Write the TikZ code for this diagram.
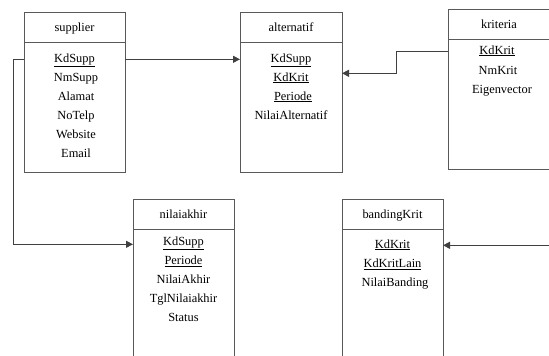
\documentclass[tikz,border=0pt]{standalone}
\usepackage{fontspec}
\setmainfont{Liberation Serif}
\usetikzlibrary{arrows.meta}
\begin{document}
\begin{tikzpicture}[x=1pt,y=-1pt,
  ent/.style={draw=black!65,line width=0.9pt,rectangle,outer sep=0pt,inner sep=0pt},
  hline/.style={draw=black!65,line width=0.9pt},
  lbl/.style={inner sep=0pt,text height=8.5pt,text depth=2.5pt,font=\fontsize{12.4}{14}\selectfont},
  conn/.style={draw=black!75,line width=1pt,-{Triangle[length=7pt,width=7pt]}}]
\useasboundingbox (0,0) rectangle (549,356);
\begin{scope}
\clip (0,0) rectangle (549,356);
% supplier
\node[ent,minimum width=101pt,minimum height=160pt] (supplier) at (74.5,92.7) {};
\draw[hline] (supplier.west |- 0,42.7) -- (supplier.east |- 0,42.7);
\node[lbl] (supT) at (74.5,28) {supplier};
\node[lbl] (s1) at (74.5,59) {\underline{KdSupp}};
\node[lbl] (s2) at (76,78) {NmSupp};
\node[lbl] (s3) at (76,97) {Alamat};
\node[lbl] (s4) at (76,116) {NoTelp};
\node[lbl] (s5) at (76,135) {Website};
\node[lbl] (s6) at (76,154) {Email};
% alternatif
\node[ent,minimum width=102pt,minimum height=160pt] (alt) at (291,92.7) {};
\draw[hline] (alt.west |- 0,42.7) -- (alt.east |- 0,42.7);
\node[lbl] (altT) at (291,28) {alternatif};
\node[lbl] (a1) at (291,59) {\underline{KdSupp}};
\node[lbl] (a2) at (291,78) {\underline{KdKrit}};
\node[lbl] (a3) at (293,97) {\underline{Periode}};
\node[lbl] (a4) at (291,116) {NilaiAlternatif};
% kriteria
\node[ent,minimum width=103pt,minimum height=160pt] (krit) at (499.5,89.2) {};
\draw[hline] (krit.west |- 0,39.3) -- (krit.east |- 0,39.3);
\node[lbl] (kritT) at (499,25) {kriteria};
\node[lbl] (k1) at (497,51) {\underline{KdKrit}};
\node[lbl] (k2) at (498,71) {NmKrit};
\node[lbl] (k3) at (502,90) {Eigenvector};
% nilaiakhir
\node[ent,minimum width=101pt,minimum height=180pt] (nilai) at (183.5,289.3) {};
\draw[hline] (nilai.west |- 0,229.3) -- (nilai.east |- 0,229.3);
\node[lbl] (nilT) at (183.5,215) {nilaiakhir};
\node[lbl] (n1) at (183.5,242.3) {\underline{KdSupp}};
\node[lbl] (n2) at (183.5,261.5) {\underline{Periode}};
\node[lbl] (n3) at (183.5,280.3) {NilaiAkhir};
\node[lbl] (n4) at (183.5,299.5) {TglNilaiakhir};
\node[lbl] (n5) at (183.5,318.5) {Status};
% bandingKrit
\node[ent,minimum width=101pt,minimum height=180pt] (band) at (392.5,289.3) {};
\draw[hline] (band.west |- 0,229.3) -- (band.east |- 0,229.3);
\node[lbl] (banT) at (392.5,215) {bandingKrit};
\node[lbl] (b1) at (392.5,245) {\underline{KdKrit}};
\node[lbl] (b2) at (392.5,264.3) {\underline{KdKritLain}};
\node[lbl] (b3) at (395,283.3) {NilaiBanding};
% connectors
\coordinate (cS) at (0,59.3);
\coordinate (cL) at (13.3,244.3);
\coordinate (cK1) at (396.7,51);
\coordinate (cK2) at (396.7,73.3);
\coordinate (cB) at (555,245.3);
\draw[conn] (supplier.east |- cS) -- (alt.west |- cS);
\draw[conn] (supplier.west |- cS) -| (cL) -- (nilai.west |- cL);
\draw[conn] (krit.west |- cK1) -- (cK1) -- (cK2) -- (alt.east |- cK2);
\draw[conn] (cB) -- (band.east |- cB);
\end{scope}
\end{tikzpicture}
\end{document}
